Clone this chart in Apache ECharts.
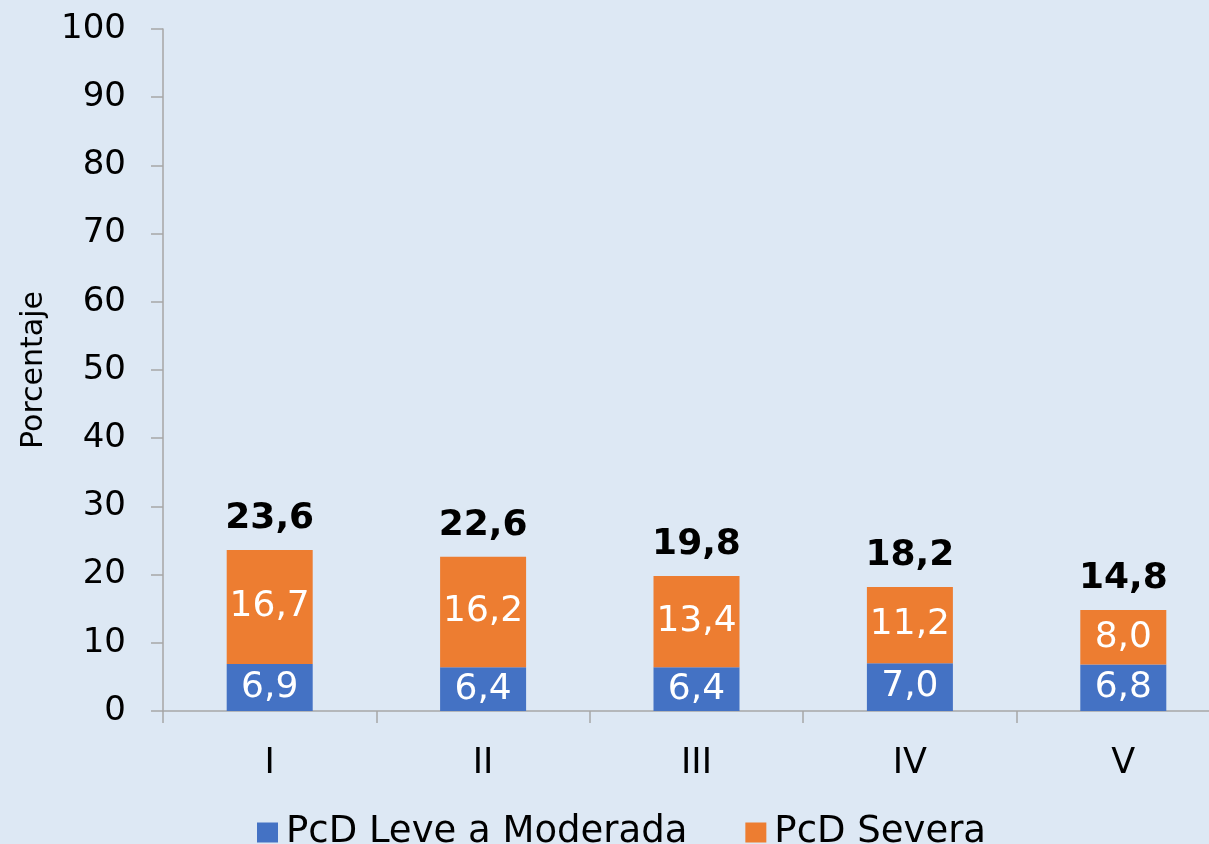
<!DOCTYPE html>
<html>
<head>
<meta charset="utf-8">
<script src="https://cdn.jsdelivr.net/npm/echarts@6/dist/echarts.min.js"></script>
<style>
  html, body { margin: 0; padding: 0; background: #dde8f4; }
  #chart { width: 1209px; height: 844px; }
</style>
</head>
<body>
<div id="chart"></div>
<script>
// datos
var categorias = ['I', 'II', 'III', 'IV', 'V'];
var leveModerada = [6.9, 6.4, 6.4, 7.0, 6.8];
var severa = [16.7, 16.2, 13.4, 11.2, 8.0];
var totales = [23.6, 22.6, 19.8, 18.2, 14.8];

var fuente = 'DejaVu Sans, Verdana, sans-serif';
var coma = function (v) { return v.toFixed(1).replace('.', ','); };

var chart = echarts.init(document.getElementById('chart'));

var option = {
    backgroundColor: '#dde8f4',
    textStyle: { fontFamily: fuente },
    grid: { left: 163, width: 1067, top: 29, height: 682, outerBoundsMode: 'none', containLabel: false },
    legend: {
        data: ['PcD Leve a Moderada', 'PcD Severa'],
        left: 252,
        top: 809,
        itemWidth: 21,
        itemHeight: 20,
        itemGap: 58,
        icon: 'rect',
        textStyle: { fontSize: 37, color: '#000', fontFamily: fuente, padding: [0, 0, 0, 3] }
    },
    xAxis: {
        type: 'category',
        data: categorias,
        axisLine: { lineStyle: { color: '#a6a6a6', width: 1.5 } },
        axisTick: { show: true, length: 12, interval: 0, lineStyle: { color: '#a6a6a6', width: 1.5 } },
        axisLabel: { fontSize: 35, color: '#000', margin: 35, fontFamily: fuente }
    },
    yAxis: {
        type: 'value',
        min: 0,
        max: 100,
        interval: 10,
        name: 'Porcentaje',
        nameLocation: 'middle',
        nameGap: 114,
        nameTextStyle: { fontSize: 30, color: '#000', fontFamily: fuente },
        splitLine: { show: false },
        axisLine: { show: true, lineStyle: { color: '#a6a6a6', width: 1.5 } },
        axisTick: { show: true, length: 12, lineStyle: { color: '#a6a6a6', width: 1.5 } },
        axisLabel: { fontSize: 34, color: '#000', margin: 37, fontFamily: fuente }
    },
    series: [
        {
            name: 'PcD Leve a Moderada',
            type: 'bar',
            stack: 'total',
            barWidth: 86,
            data: leveModerada,
            itemStyle: { color: '#4472c4' },
            label: {
                show: true, position: 'inside', color: '#fff', fontSize: 36, fontFamily: fuente,
                formatter: function (p) { return coma(p.value); }
            }
        },
        {
            name: 'PcD Severa',
            type: 'bar',
            stack: 'total',
            barWidth: 86,
            data: severa,
            itemStyle: { color: '#ed7d31' },
            label: {
                show: true, position: 'inside', color: '#fff', fontSize: 36, fontFamily: fuente,
                formatter: function (p) { return coma(p.value); }
            }
        },
        {
            // totales encima de cada barra
            name: 'Total',
            type: 'scatter',
            symbolSize: 0,
            data: totales,
            silent: true,
            itemStyle: { opacity: 1 },
            label: {
                show: true, position: 'top', distance: 13, color: '#000', opacity: 1, fontSize: 36,
                fontWeight: 'bold', fontFamily: fuente,
                formatter: function (p) { return coma(p.value); }
            }
        }
    ]
};

chart.setOption(option);
</script>
</body>
</html>
